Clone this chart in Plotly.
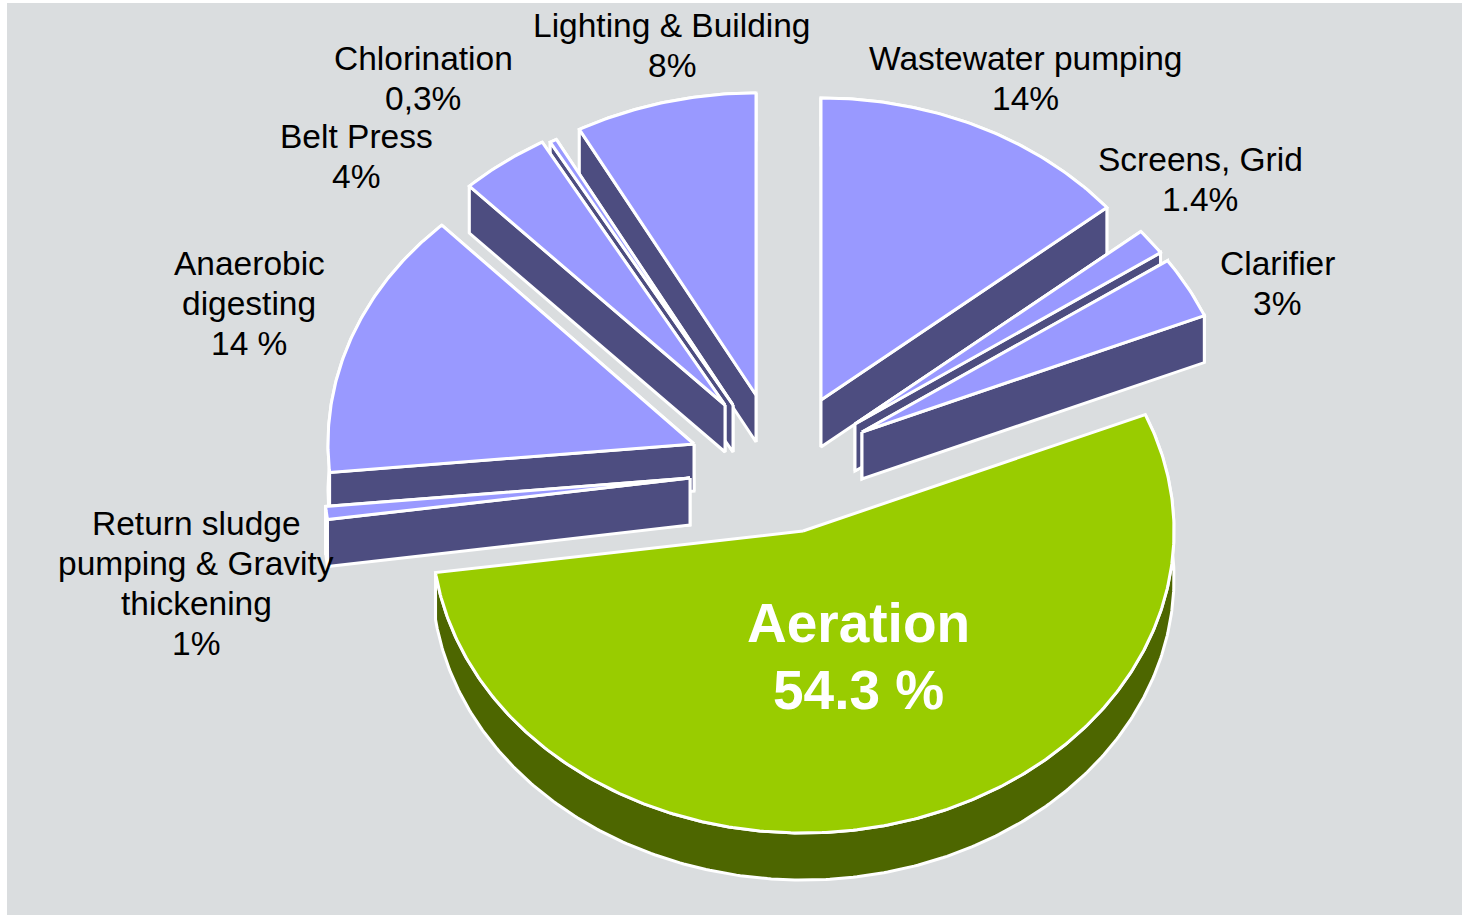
import numpy as np
import plotly.graph_objects as go

# ---- data: slices counter-clockwise starting at 12 o'clock, sized as drawn in the picture ----
categories = ["Lighting & Building", "Chlorination", "Belt Press", "Anaerobic digesting",
              "Return sludge pumping & Gravity thickening", "Aeration", "Clarifier",
              "Screens, Grid", "Wastewater pumping"]
values = [7.9, 0.3, 3.9, 14.4, 0.7, 54.1, 3.3, 1.4, 14.0]
label_lines = [["Lighting & Building", "8%"], ["Chlorination", "0,3%"], ["Belt Press", "4%"],
               ["Anaerobic", "digesting", "14 %"],
               ["Return sludge", "pumping & Gravity", "thickening", "1%"],
               ["Aeration", "54.3 %"], ["Clarifier", "3%"], ["Screens, Grid", "1.4%"],
               ["Wastewater pumping", "14%"]]

# ---- layout / style (pixel-like axis units) ----
apex = [(756, 395), (733, 405), (725, 405), (694, 444), (690, 478),
        (803, 531), (862, 432), (855, 424), (821, 400)]
radius_x = [371, 371, 371, 366, 366, 371, 371, 371, 371]
label_pos = [(672, 25), (423, 58), (356, 136), (249, 263), (196, 523),
             (858, 623), (1277, 263), (1200, 159), (1025, 58)]
draw_order = [0, 1, 2, 8, 7, 6, 3, 4, 5]
RY, DEPTH = 302, 47
TOP, SIDE = "#9999FF", "#4D4D80"
TOP_HI, SIDE_HI = "#99CC00", "#4D6600"
BG = "#DADDDF"
HI = categories.index("Aeration")

total = sum(values)
edges = 90 + np.concatenate([[0], np.cumsum(values)]) / total * 360

fig = go.Figure()


def poly(xs, ys, fill, name):
    fig.add_trace(go.Scatter(
        x=list(xs) + [xs[0]], y=list(ys) + [ys[0]], mode="lines", fill="toself",
        fillcolor=fill, line=dict(color="white", width=3), name=name,
        hoverinfo="name", showlegend=False))


for i in draw_order:
    cx, cy = apex[i]
    a0, a1 = np.radians(edges[i]), np.radians(edges[i + 1])
    t = np.linspace(a0, a1, max(4, int(values[i] * 6)))
    ax = cx + radius_x[i] * np.cos(t)
    ay = cy - RY * np.sin(t)
    top, side = (TOP_HI, SIDE_HI) if i == HI else (TOP, SIDE)
    # extruded faces: outer rim, then the cut edges (the camera-facing one last)
    poly(np.r_[ax, ax[::-1]], np.r_[ay, ay[::-1] + DEPTH], side, categories[i])
    if values[i] / total < 0.5:
        for k in sorted((0, -1), key=lambda e: -np.sin(t[e])):
            poly([cx, ax[k], ax[k], cx], [cy, ay[k], ay[k] + DEPTH, cy + DEPTH], side, categories[i])
    # top face
    poly(np.r_[cx, ax], np.r_[cy, ay], top, categories[i])

for i, lines in enumerate(label_lines):
    x0, y0 = label_pos[i]
    hi = i == HI
    for j, line in enumerate(lines):
        fig.add_annotation(
            x=x0, y=y0 + j * (67 if hi else 40), text=line, showarrow=False,
            xanchor="center", yanchor="middle",
            font=dict(family="Liberation Sans, Arial, sans-serif",
                      size=55 if hi else 33.5,
                      color="white" if hi else "black",
                      weight="bold" if hi else "normal"))

fig.add_shape(type="rect", x0=7, x1=1462, y0=3, y1=915, fillcolor=BG,
              line=dict(width=0), layer="below")
fig.update_layout(
    width=1462, height=916, margin=dict(l=0, r=0, t=0, b=0),
    paper_bgcolor="white", plot_bgcolor="white", showlegend=False,
    xaxis=dict(range=[0, 1462], visible=False, fixedrange=True),
    yaxis=dict(range=[916, 0], visible=False, fixedrange=True),
)
fig.write_html("out.html", config={"displayModeBar": False},
               post_script="document.body.style.margin='0';document.body.style.overflow='hidden';")
